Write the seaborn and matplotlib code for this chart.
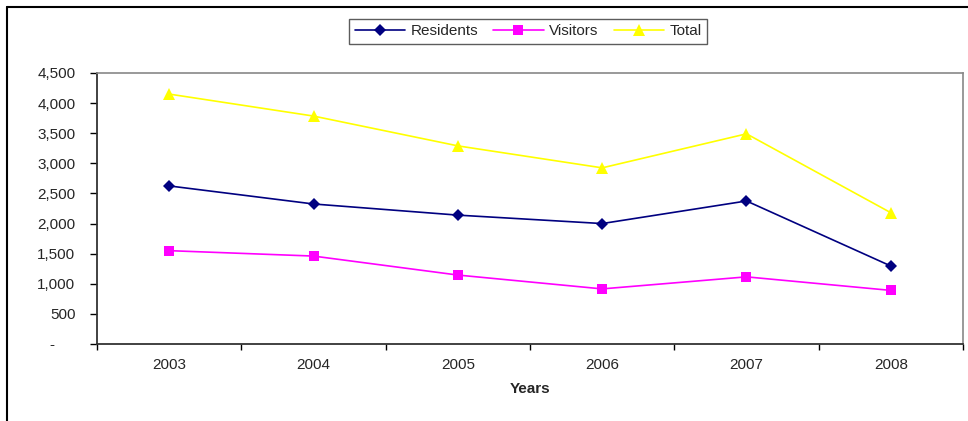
import pandas as pd
import numpy as np
import matplotlib
matplotlib.use('Agg')
import matplotlib.pyplot as plt
from matplotlib.lines import Line2D
from matplotlib.ticker import FuncFormatter, FixedLocator
from matplotlib.transforms import ScaledTranslation
import seaborn as sns

# Values
years = ['2003', '2004', '2005', '2006', '2007', '2008']
residents = [2625, 2325, 2140, 2000, 2375, 1295]
visitors = [1550, 1460, 1145, 915, 1115, 890]
total = [4150, 3785, 3290, 2925, 3490, 2180]

series_names = ['Residents', 'Visitors', 'Total']
series_colors = {'Residents': '#000080', 'Visitors': '#FF00FF', 'Total': '#FFFF00'}
series_markers = {'Residents': 'D', 'Visitors': 's', 'Total': '^'}
marker_sizes = {'Residents': 6, 'Visitors': 6.5, 'Total': 8.5}

df = pd.DataFrame({
    'pos': list(range(len(years))) * 3,
    'value': residents + visitors + total,
    'series': [s for s in series_names for _ in years],
})

sns.set_style('white')
plt.rcParams['font.family'] = ['Liberation Sans', 'DejaVu Sans']
FS = 11

W, H = 968, 421
fig = plt.figure(figsize=(W / 100, H / 100), dpi=100)
ax = fig.add_axes([97 / W, 1 - 344 / H, (963 - 97) / W, (344 - 73) / H])

sns.lineplot(data=df, x='pos', y='value', hue='series', style='series',
             palette=series_colors, markers=series_markers, dashes=False,
             markeredgewidth=0, linewidth=1.2, ax=ax, legend=False)
# per-series marker sizes
for line, name in zip(ax.get_lines(), series_names):
    line.set_markersize(marker_sizes[name])

ax.set_xlim(-0.5, len(years) - 0.5)
ax.set_ylim(0, 4500)

# x: tick marks on category boundaries, labels centred
ax.xaxis.set_major_locator(FixedLocator(np.arange(-0.5, len(years), 1.0)))
ax.xaxis.set_minor_locator(FixedLocator(np.arange(len(years))))
ax.set_xticklabels([])
ax.set_xticklabels(years, minor=True)
ax.tick_params(axis='x', which='major', direction='out', length=4, width=1, color='black', bottom=True)
ax.tick_params(axis='x', which='minor', length=0, labelsize=FS, pad=10, bottom=True)

ax.set_yticks(np.arange(0, 4501, 500))
ax.yaxis.set_major_formatter(FuncFormatter(lambda v, p: '-' if v == 0 else f'{int(v):,}'))
ax.tick_params(axis='y', direction='out', length=5, width=1, color='black', labelsize=FS, pad=10.5, left=True)

ax.set_xlabel('Years', fontsize=FS, fontweight='bold', labelpad=7)
ax.set_ylabel('')

# zero label "-" sits further left, like an accounting format
fig.canvas.draw()
zero_label = ax.get_yticklabels()[0]
zero_label.set_transform(zero_label.get_transform() + ScaledTranslation(-0.21, 0, fig.dpi_scale_trans))

for side in ['left', 'bottom']:
    ax.spines[side].set_color('#333333')
    ax.spines[side].set_linewidth(1.3)
for side in ['top', 'right']:
    ax.spines[side].set_color('#888888')
    ax.spines[side].set_linewidth(1.2)
    ax.spines[side].set_visible(True)

handles = [Line2D([0], [0], color=series_colors[s], marker=series_markers[s],
                  markersize=marker_sizes[s], markeredgewidth=0, linewidth=1.2) for s in series_names]
leg = fig.legend(handles, series_names, loc='upper center', ncol=3,
                 bbox_to_anchor=(528 / W, 1 - 19 / H), borderaxespad=0,
                 frameon=True, fancybox=False, fontsize=FS, handlelength=3.3,
                 handletextpad=0.35, columnspacing=1.0, borderpad=0.35,
                 edgecolor='#333333')
leg.get_frame().set_linewidth(1.0)

# outer chart frame (cut off on right and bottom)
fig.add_artist(Line2D([7 / W, 7 / W], [0, 1 - 7 / H], color='black', linewidth=1.5, transform=fig.transFigure))
fig.add_artist(Line2D([7 / W, 1], [1 - 7 / H, 1 - 7 / H], color='black', linewidth=1.5, transform=fig.transFigure))

fig.savefig('out.png', dpi=100)
